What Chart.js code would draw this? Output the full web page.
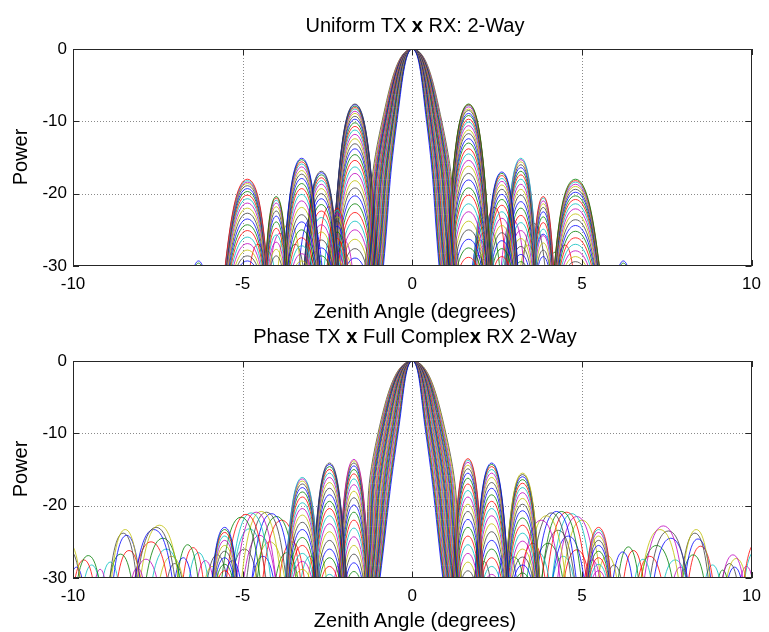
<!DOCTYPE html>
<html>
<head>
<meta charset="utf-8">
<script src="https://cdn.jsdelivr.net/npm/chart.js@4.4.1/dist/chart.umd.min.js"></script>
<style>
body{margin:0;background:#fff;width:769px;height:632px;position:relative;overflow:hidden;font-family:"Liberation Sans",Arial,Helvetica,sans-serif}
canvas{position:absolute;left:0}
.txt{position:absolute;font-size:20px;line-height:20px;white-space:nowrap;color:#000}
.ctr{left:0;width:830px;text-align:center}
.ylab{left:-30px;width:100px;text-align:center;transform:rotate(-90deg)}
</style>
</head>
<body>
<canvas id="top" width="769" height="316" style="top:0"></canvas>
<canvas id="bot" width="769" height="316" style="top:316px"></canvas>
<div class="txt ctr" style="top:15px">Uniform TX <b>x</b> RX: 2-Way</div>
<div class="txt ctr" style="top:301px">Zenith Angle (degrees)</div>
<div class="txt ctr" style="top:326px">Phase TX <b>x</b> Full Comple<b>x</b> RX 2-Way</div>
<div class="txt ctr" style="top:610px">Zenith Angle (degrees)</div>
<div class="txt ylab" style="top:147px">Power</div>
<div class="txt ylab" style="top:459px">Power</div>
<script>
// axis ticks
const xTicks = [-10, -5, 0, 5, 10]
const yTicks = [-30, -20, -10, 0]
// pattern nulls sit far below the -30 floor of the plot
const nullFloor = -60
const lineColors = ['#0000ff', '#008000', '#ff0000', '#00bfbf', '#bf00bf', '#bfbf00', '#404040']

// --- Uniform TX x RX
// main lobe of each curve: angle where it crosses -10 and -30 on each side
const topMain10L = [-0.45, -0.47, -0.48, -0.50, -0.51, -0.53, -0.55, -0.56, -0.58, -0.59, -0.61, -0.63, -0.64, -0.66,
	-0.67, -0.69, -0.71, -0.72, -0.74, -0.75, -0.77, -0.79, -0.80, -0.82, -0.83, -0.85, -0.87, -0.89]
const topMain30L = [-0.85, -0.87, -0.89, -0.91, -0.93, -0.95, -0.97, -0.99, -1.01, -1.03, -1.05, -1.07, -1.09, -1.11,
	-1.13, -1.15, -1.17, -1.19, -1.21, -1.23, -1.25, -1.27, -1.29, -1.31, -1.33, -1.35, -1.37, -1.40]
const topMain10R = [0.42, 0.44, 0.45, 0.47, 0.49, 0.50, 0.52, 0.54, 0.55, 0.57, 0.59, 0.60, 0.62, 0.64,
	0.65, 0.67, 0.69, 0.70, 0.72, 0.74, 0.75, 0.77, 0.79, 0.80, 0.82, 0.84, 0.85, 0.87]
const topMain30R = [0.79, 0.81, 0.83, 0.85, 0.87, 0.89, 0.91, 0.93, 0.95, 0.97, 0.99, 1.01, 1.03, 1.06,
	1.08, 1.10, 1.12, 1.14, 1.16, 1.18, 1.20, 1.22, 1.24, 1.27, 1.29, 1.31, 1.33, 1.37]
// sidelobes: centre, distance to nulls (left, right), nested peak levels
const topLobeCenters = [-6.30, -4.86, -4.01, -3.26, -2.68, -2.21, -1.69, 1.66, 2.10, 2.64, 3.20, 3.86, 4.81, 6.22]
const topLobeReach = [[0.7, 0.7], [1.41, 1.15], [0.71, 0.71], [1.04, 1.04], [1.02, 1.02], [0.7, 0.7], [1.18, 1.18],
	[1.15, 1.15], [0.7, 0.7], [0.95, 0.95], [0.92, 0.92], [0.67, 0.67], [1.23, 1.52], [0.7, 0.7]]
const topLobePeaks = [
	[-29.3, -29.6],
	[-18.0, -18.2, -18.4, -18.6, -18.9, -19.3, -19.7, -20.2, -20.7, -21.3, -22.0, -22.7, -23.5, -24.3, -25.1, -26.0, -26.9, -27.8, -28.6, -29.3],
	[-20.4, -20.6, -20.9, -21.3, -21.8, -22.4, -23.1, -23.9, -24.8, -25.7, -26.7, -27.7, -28.6],
	[-15.1, -15.3, -15.6, -15.9, -16.3, -16.8, -17.3, -17.9, -18.6, -19.3, -20.1, -21.0, -21.9, -22.9, -23.9, -25.0, -26.1, -27.2, -28.3, -29.3],
	[-16.9, -17.1, -17.4, -17.8, -18.2, -18.7, -19.3, -20.0, -20.7, -21.5, -22.4, -23.3, -24.3, -25.3, -26.4, -27.5, -28.6],
	[-22.0, -22.3, -22.7, -23.2, -23.8, -24.5, -25.3, -26.2, -27.1, -28.1, -29.0],
	[-7.6, -7.7, -7.9, -8.1, -8.3, -8.6, -8.9, -9.3, -9.7, -10.2, -10.7, -11.2, -11.8, -12.4, -13.1, -13.8, -14.6, -15.4,
		-16.3, -17.2, -18.2, -19.2, -20.3, -21.4, -22.6, -23.8, -25.0, -26.3, -27.6, -28.9],
	[-7.6, -7.7, -7.8, -8.0, -8.3, -8.5, -8.9, -9.2, -9.7, -10.1, -10.6, -11.2, -11.7, -12.4, -13.0, -13.8, -14.5, -15.4,
		-16.2, -17.2, -18.1, -19.2, -20.2, -21.4, -22.5, -23.8, -25.0, -26.3, -27.5, -28.8],
	[-22.0, -22.3, -22.8, -23.3, -23.9, -24.6, -25.4, -26.3, -27.2, -28.2, -29.1],
	[-17.0, -17.2, -17.5, -17.9, -18.3, -18.8, -19.4, -20.1, -20.8, -21.6, -22.5, -23.4, -24.4, -25.4, -26.5, -27.6, -28.7],
	[-15.1, -15.3, -15.6, -16.0, -16.4, -16.9, -17.4, -18.0, -18.7, -19.4, -20.2, -21.1, -22.0, -23.0, -24.0, -25.1, -26.2, -27.3, -28.4, -29.4],
	[-20.4, -20.6, -21.0, -21.4, -21.9, -22.5, -23.2, -24.0, -24.9, -25.8, -26.8, -27.8, -28.7],
	[-18.0, -18.2, -18.4, -18.7, -19.0, -19.4, -19.8, -20.3, -20.8, -21.4, -22.1, -22.8, -23.6, -24.4, -25.2, -26.1, -27.0, -27.9, -28.7, -29.4],
	[-29.3, -29.6]
]
// low lobes of single curves between the main families: centre, peak, distance to nulls
const topLooseLobes = [
	[-4.55, -27.0, 0.75], [-4.25, -28.0, 0.65], [-3.9, -25.5, 0.8], [-3.62, -24.0, 0.85], [-3.45, -27.0, 0.75],
	[-3.0, -23.5, 0.85], [-2.85, -28.0, 0.65], [-2.45, -21.8, 0.8], [-2.32, -25.0, 0.75], [-2.0, -26.5, 0.7], [-1.95, -28.6, 0.6],
	[1.95, -28.5, 0.6], [2.0, -26.4, 0.7], [2.3, -25.1, 0.75], [2.42, -21.9, 0.8], [2.82, -28.1, 0.65], [2.96, -23.6, 0.85],
	[3.42, -27.1, 0.75], [3.58, -24.1, 0.85], [3.86, -25.6, 0.8], [4.2, -28.1, 0.65], [4.5, -27.1, 0.75]
]

// --- Phase TX x Full Complex RX
const botMain10L = [-0.42, -0.44, -0.46, -0.48, -0.51, -0.53, -0.55, -0.57, -0.60, -0.62, -0.64, -0.66, -0.69, -0.71,
	-0.73, -0.75, -0.78, -0.80, -0.82, -0.84, -0.87, -0.89, -0.91, -0.93, -0.95, -0.97, -0.99, -1.01]
const botMain30L = [-0.95, -0.97, -0.98, -1.00, -1.02, -1.03, -1.05, -1.07, -1.08, -1.10, -1.12, -1.13, -1.15, -1.17,
	-1.18, -1.20, -1.22, -1.23, -1.25, -1.27, -1.28, -1.30, -1.32, -1.33, -1.35, -1.37, -1.39, -1.42]
const botMain10R = [0.40, 0.42, 0.44, 0.46, 0.49, 0.51, 0.53, 0.55, 0.57, 0.59, 0.62, 0.64, 0.66, 0.68,
	0.70, 0.72, 0.75, 0.77, 0.79, 0.81, 0.83, 0.85, 0.88, 0.90, 0.92, 0.94, 0.97, 0.99]
const botMain30R = [0.90, 0.92, 0.94, 0.96, 0.98, 1.00, 1.02, 1.04, 1.06, 1.08, 1.10, 1.12, 1.14, 1.16,
	1.18, 1.20, 1.22, 1.24, 1.26, 1.28, 1.30, 1.32, 1.34, 1.36, 1.38, 1.40, 1.42, 1.45]
const botLobeCenters = [-5.53, -3.24, -2.44, -1.72, 1.64, 2.34, 3.25, 5.49]
const botLobeReach = [[0.9, 0.9], [1.0, 1.0], [0.95, 0.95], [0.86, 0.86], [0.86, 0.86], [0.95, 0.95], [1.0, 1.0], [0.9, 0.9]]
const botLobePeaks = [
	[-23.0, -23.3, -23.7, -24.2, -24.8, -25.5, -26.3, -27.2, -28.1, -29.0],
	[-16.1, -16.3, -16.6, -17.0, -17.5, -18.1, -18.8, -19.6, -20.4, -21.3, -22.3, -23.3, -24.4, -25.5, -26.6, -27.7, -28.8],
	[-14.1, -14.3, -14.6, -15.0, -15.5, -16.1, -16.8, -17.6, -18.5, -19.4, -20.4, -21.4, -22.5, -23.6, -24.8, -26.0, -27.2, -28.4, -29.5],
	[-13.6, -13.8, -14.1, -14.5, -15.0, -15.6, -16.3, -17.1, -18.0, -18.9, -19.9, -20.9, -22.0, -23.1, -24.3, -25.5, -26.7, -27.9, -29.1],
	[-13.5, -13.7, -14.0, -14.4, -14.9, -15.5, -16.2, -17.0, -17.9, -18.8, -19.8, -20.8, -21.9, -23.0, -24.2, -25.4, -26.6, -27.8, -29.0],
	[-14.1, -14.3, -14.6, -15.0, -15.5, -16.1, -16.8, -17.6, -18.5, -19.4, -20.4, -21.4, -22.5, -23.6, -24.8, -26.0, -27.2, -28.4, -29.5],
	[-15.5, -15.7, -16.0, -16.4, -16.9, -17.5, -18.2, -19.0, -19.8, -20.7, -21.7, -22.7, -23.8, -24.9, -26.0, -27.1, -28.2, -29.3],
	[-23.0, -23.3, -23.7, -24.2, -24.8, -25.5, -26.3, -27.2, -28.1, -29.0]
]
// single far-out lobes of individual curves: centre, peak, distance to nulls
const botLooseLobes = [
	[-10.15, -25.0, 1.0], [-10.1, -26.2, 0.9], [-9.9, -28.5, 0.7],
	[-9.55, -26.9, 1.0], [-9.68, -27.5, 0.9], [-9.45, -28.2, 0.8], [-9.2, -28.8, 0.6],
	[-8.46, -23.3, 1.0], [-8.52, -23.8, 1.0], [-8.42, -24.1, 1.0], [-8.6, -26.7, 1.0], [-8.35, -26.2, 1.0],
	[-8.9, -27.8, 0.8], [-8.1, -28.6, 0.7],
	[-7.45, -22.7, 1.35], [-7.55, -23.0, 1.35], [-7.62, -23.3, 1.35], [-7.35, -24.5, 1.3], [-7.7, -25.0, 1.3],
	[-7.25, -26.0, 1.2], [-7.85, -27.4, 1.1], [-7.1, -27.0, 1.1], [-7.0, -28.0, 0.8],
	[-6.75, -27.2, 0.8], [-6.62, -25.4, 0.85], [-6.46, -25.8, 0.85], [-6.3, -26.5, 0.85], [-6.1, -27.6, 0.8], [-5.9, -28.4, 0.8],
	[-5.75, -26.8, 0.9], [-5.3, -27.6, 0.8],
	[-5.05, -21.6, 1.3], [-4.9, -21.2, 1.3], [-4.75, -21.0, 1.3], [-4.6, -20.9, 1.3], [-4.45, -20.8, 1.3],
	[-4.3, -20.9, 1.3], [-4.15, -21.1, 1.3], [-4.0, -21.5, 1.3], [-3.85, -22.0, 1.3],
	[-4.8, -23.2, 1.2], [-4.5, -24.1, 1.2], [-4.2, -25.0, 1.2], [-4.95, -26.0, 1.1], [-4.4, -27.0, 1.0],
	[-3.7, -26.5, 1.0], [-3.55, -25.0, 1.0], [-3.0, -27.0, 0.9], [-2.1, -27.8, 0.7], [-2.8, -26.1, 0.8],
	[2.1, -27.7, 0.7], [2.8, -26.2, 0.8],
	[3.0, -27.1, 0.9], [3.55, -25.2, 1.0], [3.7, -26.4, 1.0],
	[3.8, -22.0, 1.3], [3.95, -21.4, 1.3], [4.1, -21.0, 1.3], [4.25, -20.8, 1.3], [4.4, -20.8, 1.3],
	[4.55, -20.9, 1.3], [4.7, -21.1, 1.3], [4.85, -21.5, 1.3], [5.0, -22.0, 1.3],
	[4.3, -23.4, 1.2], [4.6, -24.2, 1.2], [4.0, -25.2, 1.2], [4.85, -26.1, 1.1], [4.45, -27.0, 1.0],
	[5.3, -27.5, 0.8], [5.75, -26.9, 0.9],
	[5.95, -28.2, 0.8], [6.2, -26.4, 0.85], [6.37, -25.7, 0.85], [6.52, -26.2, 0.85], [6.8, -27.4, 0.8],
	[7.4, -22.8, 1.35], [7.3, -23.3, 1.35], [7.55, -23.5, 1.35], [7.62, -24.5, 1.3], [7.2, -25.5, 1.3],
	[7.0, -27.0, 1.1], [7.75, -27.5, 1.1], [7.9, -28.5, 0.8],
	[8.37, -23.3, 1.0], [8.33, -23.8, 1.0], [8.42, -24.6, 1.0], [8.28, -26.8, 1.0], [8.5, -25.6, 1.0], [8.85, -28.2, 0.8],
	[9.45, -26.8, 0.95], [9.55, -27.3, 0.95], [9.35, -28.0, 0.8], [9.5, -28.5, 0.8], [9.15, -28.9, 0.6],
	[10.15, -25.0, 1.0], [10.1, -26.3, 0.9], [9.85, -28.4, 0.7]
]

function curve(points, n) {
	return {
		data: points.map(([x, y]) => ({x, y})),
		borderColor: lineColors[n % lineColors.length],
		borderWidth: 0.8,
		pointRadius: 0,
		fill: false,
		tension: 0.5
	}
}

function buildSets(m10L, m30L, m10R, m30R, centers, reach, peaks, loose) {
	const sets = []
	let n = 0
	m10L.forEach((l, k) => sets.push(curve([[m30L[k], -30], [l, -10], [0, 0], [m10R[k], -10], [m30R[k], -30]], n++)))
	centers.forEach((c, i) => {
		peaks[i].forEach(p => sets.push(curve([[c - reach[i][0], nullFloor], [c, p], [c + reach[i][1], nullFloor]], n++)))
	})
	loose.forEach(([c, p, h]) => sets.push(curve([[c - h, nullFloor], [c, p], [c + h, nullFloor]], n++)))
	return sets
}

// matlab style grid, box and inward ticks
const matlabAxes = {
	id: 'matlabAxes',
	beforeDatasetsDraw(chart) {
		const {ctx, chartArea: a, scales: {x, y}} = chart
		ctx.save()
		ctx.strokeStyle = '#8a8a8a'
		ctx.lineWidth = 1
		ctx.setLineDash([1, 2])
		ctx.beginPath()
		xTicks.slice(1, -1).forEach(v => {
			const p = Math.round(x.getPixelForValue(v)) + 0.5
			ctx.moveTo(p, a.top); ctx.lineTo(p, a.bottom)
		})
		yTicks.slice(1, -1).forEach(v => {
			const p = Math.round(y.getPixelForValue(v)) + 0.5
			ctx.moveTo(a.left, p); ctx.lineTo(a.right, p)
		})
		ctx.stroke()
		ctx.restore()
	},
	afterDatasetsDraw(chart) {
		const {ctx, chartArea: a, scales: {x, y}} = chart
		ctx.save()
		ctx.strokeStyle = '#262626'
		ctx.lineWidth = 1
		ctx.strokeRect(Math.round(a.left) + 0.5, Math.round(a.top) + 0.5, Math.round(a.width) - 1, Math.round(a.height) - 1)
		ctx.beginPath()
		xTicks.forEach(v => {
			const p = Math.round(x.getPixelForValue(v)) + 0.5
			ctx.moveTo(p, a.bottom); ctx.lineTo(p, a.bottom - 6)
			ctx.moveTo(p, a.top); ctx.lineTo(p, a.top + 6)
		})
		yTicks.forEach(v => {
			const p = Math.round(y.getPixelForValue(v)) + 0.5
			ctx.moveTo(a.left, p); ctx.lineTo(a.left + 6, p)
			ctx.moveTo(a.right, p); ctx.lineTo(a.right - 6, p)
		})
		ctx.stroke()
		ctx.restore()
	}
}

const tickFont = {family: '"Liberation Sans", Arial, sans-serif', size: 17}

function draw(id, sets, padTop, axisH) {
	return new Chart(document.getElementById(id), {
		type: 'line',
		data: {datasets: sets},
		options: {
			responsive: false,
			animation: false,
			events: [],
			elements: {line: {capBezierPoints: false}},
			layout: {padding: {top: padTop, right: 12, left: 0, bottom: 0}},
			plugins: {legend: {display: false}, tooltip: {enabled: false}},
			scales: {
				x: {
					type: 'linear', min: -10, max: 10,
					afterBuildTicks: s => { s.ticks = xTicks.map(v => ({value: v})) },
					afterFit: s => { s.height = axisH },
					grid: {display: false, drawTicks: false},
					border: {display: false},
					ticks: {padding: 8, font: tickFont, color: '#000', maxRotation: 0, autoSkip: false}
				},
				y: {
					min: -30, max: 0,
					afterBuildTicks: s => { s.ticks = yTicks.map(v => ({value: v})) },
					afterFit: s => { s.width = 73 },
					grid: {display: false, drawTicks: false},
					border: {display: false},
					ticks: {padding: 6, font: tickFont, color: '#000'}
				}
			}
		},
		plugins: [matlabAxes]
	})
}

draw('top', buildSets(topMain10L, topMain30L, topMain10R, topMain30R, topLobeCenters, topLobeReach, topLobePeaks, topLooseLobes), 49, 50)
draw('bot', buildSets(botMain10L, botMain30L, botMain10R, botMain30R, botLobeCenters, botLobeReach, botLobePeaks, botLooseLobes), 45, 54)
</script>
</body>
</html>
